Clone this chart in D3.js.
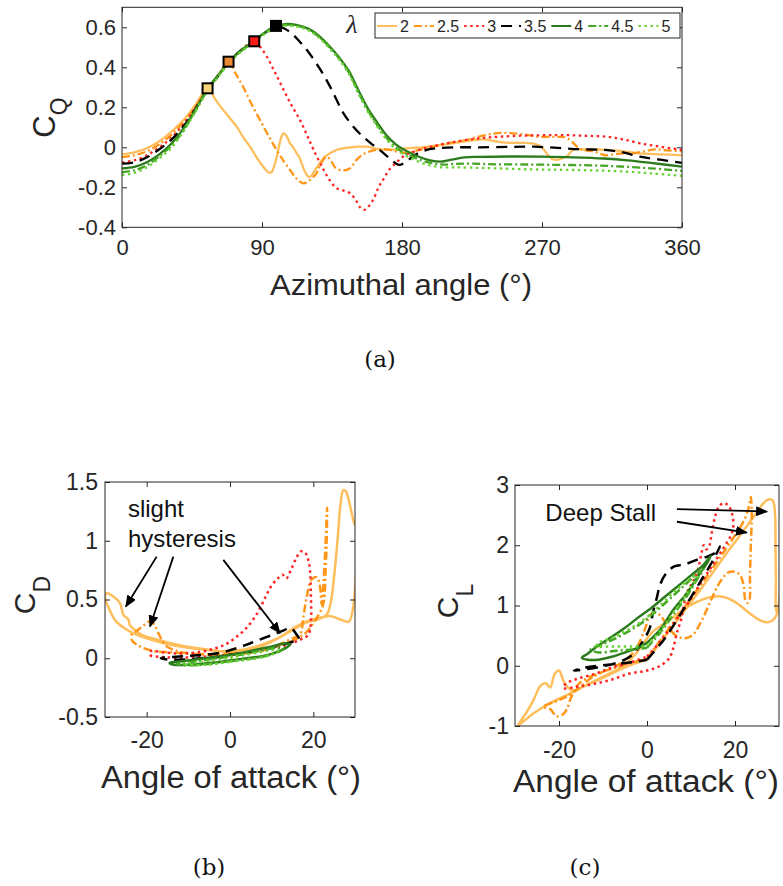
<!DOCTYPE html>
<html>
<head>
<meta charset="utf-8">
<script src="https://cdn.jsdelivr.net/npm/d3@7"></script>
<style>
  body { margin: 0; background: #fff; }
  svg { display: block; }
</style>
</head>
<body>
<svg id="fig" width="783" height="886"></svg>
<script>
// ---- data -------------------------------------------------------------
const lambdaLabels = ["2", "2.5", "3", "3.5", "4", "4.5", "5"];

const azTicks = [0, 90, 180, 270, 360];
const azTickLabels = ["0", "90", "180", "270", "360"];
const cqTicks = [-0.4, -0.2, 0, 0.2, 0.4, 0.6];
const cqTickLabels = ["-0.4", "-0.2", "0", "0.2", "0.4", "0.6"];
const aoaTicks = [-20, 0, 20];
const aoaTickLabels = ["-20", "0", "20"];
const cdTicks = [-0.5, 0, 0.5, 1, 1.5];
const cdTickLabels = ["-0.5", "0", "0.5", "1", "1.5"];
const clTicks = [-1, 0, 1, 2, 3];
const clTickLabels = ["-1", "0", "1", "2", "3"];

// torque coefficient vs azimuthal angle, [theta (deg), C_Q]
const cq2 = [[0,-0.035],[8,-0.025],[16,-0.005],[24,0.03],[32,0.08],[40,0.14],[47,0.21],[55,0.295],[60,0.24],[65,0.187],[69,0.15],[73.7,0.103],[78,0.05],[82.3,0.003],[86.5,-0.05],[90.8,-0.097],[94,-0.125],[96,-0.125],[98,-0.09],[100,-0.03],[102,0.04],[103.7,0.07],[105.5,0.06],[108,0.02],[110,0.0],[112.3,-0.03],[114,-0.05],[115.5,-0.08],[117.5,-0.12],[119.8,-0.147],[122,-0.14],[124,-0.115],[127,-0.08],[130,-0.05],[133.7,-0.03],[138,-0.013],[142,-0.005],[147,0.0],[152,0.003],[157,0.003],[162,-0.005],[167,-0.012],[172,-0.013],[180,-0.008],[186,-0.003],[193,0.0],[200,0.007],[208,0.015],[215,0.023],[224,0.033],[232,0.04],[240,0.03],[247,0.023],[256,0.022],[264,0.02],[268,0.01],[271,-0.01],[274,-0.04],[277,-0.06],[280,-0.063],[283,-0.055],[286,-0.045],[290,-0.013],[296,-0.01],[311.6,-0.013],[322,-0.02],[333,-0.03],[346,-0.035],[360,-0.04]];
const cq25 = [[0,-0.05],[8,-0.04],[16,-0.02],[24,0.015],[32,0.065],[40,0.13],[47,0.2],[55,0.292],[62,0.362],[68.5,0.428],[73,0.37],[78,0.3],[83,0.22],[88.7,0.137],[94,0.06],[99.4,-0.013],[104,-0.07],[108,-0.113],[112,-0.155],[116.6,-0.18],[120.5,-0.165],[125,-0.13],[128,-0.08],[131.6,-0.047],[134.5,-0.07],[137,-0.1],[140,-0.113],[143,-0.115],[146.6,-0.105],[150.8,-0.063],[155,-0.035],[161.6,-0.015],[170,-0.01],[176,-0.02],[183,-0.028],[190,-0.015],[200,0.003],[210,0.02],[221.6,0.037],[230,0.055],[238.7,0.068],[245,0.072],[251.6,0.07],[260,0.062],[268.7,0.053],[278,0.052],[285,0.05],[289,0.03],[293,0.0],[297,-0.015],[303,-0.02],[307,-0.03],[311,-0.04],[316,-0.035],[322,-0.03],[328.6,-0.03],[336,-0.02],[343,-0.01],[350,-0.015],[360,-0.02]];
const cq3 = [[0,-0.075],[8,-0.065],[16,-0.04],[24,0.0],[32,0.05],[40,0.12],[47,0.195],[55,0.29],[62,0.36],[68.5,0.425],[76,0.482],[85,0.53],[89,0.5],[93,0.455],[98,0.38],[103.7,0.29],[109,0.21],[114.4,0.137],[119,0.06],[123,-0.01],[129.4,-0.11],[134,-0.17],[138,-0.205],[142,-0.215],[146.6,-0.23],[150,-0.26],[153,-0.3],[155.5,-0.313],[158,-0.3],[161.6,-0.26],[165,-0.2],[168,-0.16],[172,-0.11],[176.6,-0.075],[181,-0.045],[185,-0.03],[192,-0.01],[200,0.005],[210,0.022],[221.6,0.037],[232,0.047],[243,0.053],[256,0.058],[268.7,0.06],[280,0.061],[290,0.06],[300,0.057],[311.6,0.053],[322,0.04],[333,0.02],[346,0.003],[360,-0.013]];
const cq35 = [[0,-0.082],[8,-0.075],[16,-0.05],[24,-0.01],[32,0.04],[40,0.11],[47,0.19],[55,0.29],[62,0.36],[68.5,0.425],[76,0.482],[85,0.53],[92,0.573],[99,0.607],[104,0.595],[109,0.57],[114,0.53],[119,0.485],[124,0.43],[129,0.37],[135,0.285],[142,0.175],[148,0.11],[154,0.06],[160,0.02],[166,-0.015],[172,-0.055],[178,-0.088],[183,-0.07],[188,-0.04],[195,-0.015],[202,-0.005],[215,0.0],[230,0.0],[250,0.002],[265,0.003],[280,-0.003],[295,-0.01],[310,-0.013],[322,-0.025],[333,-0.047],[346,-0.062],[360,-0.078]];
const cq4 = [[0,-0.105],[8,-0.098],[16,-0.075],[24,-0.035],[32,0.02],[40,0.1],[47,0.185],[55,0.293],[62,0.362],[68.5,0.426],[76,0.482],[85,0.532],[92,0.575],[99,0.606],[105,0.616],[112,0.612],[120,0.592],[127,0.555],[134,0.5],[140,0.445],[146,0.38],[152,0.285],[158,0.195],[164,0.125],[170,0.06],[176,0.015],[182,-0.015],[190,-0.045],[198,-0.065],[205,-0.072],[212,-0.062],[220,-0.05],[230,-0.048],[250,-0.046],[270,-0.047],[290,-0.05],[310,-0.056],[325,-0.065],[340,-0.078],[360,-0.097]];
const cq45 = [[0,-0.125],[8,-0.115],[16,-0.09],[24,-0.045],[32,0.01],[40,0.09],[47,0.18],[55,0.287],[62,0.358],[68.5,0.422],[76,0.478],[85,0.528],[92,0.572],[99,0.603],[105,0.612],[112,0.608],[120,0.588],[127,0.55],[134,0.495],[140,0.44],[146,0.372],[152,0.275],[158,0.185],[164,0.112],[170,0.048],[176,0.0],[182,-0.03],[190,-0.058],[198,-0.077],[206,-0.086],[214,-0.083],[225,-0.082],[240,-0.085],[260,-0.086],[280,-0.088],[300,-0.09],[320,-0.096],[340,-0.105],[360,-0.118]];
const cq5 = [[0,-0.138],[8,-0.128],[16,-0.1],[24,-0.055],[32,0.0],[40,0.085],[47,0.175],[55,0.282],[62,0.354],[68.5,0.418],[76,0.474],[85,0.524],[92,0.568],[99,0.6],[105,0.608],[112,0.604],[120,0.584],[127,0.545],[134,0.49],[140,0.435],[146,0.365],[152,0.268],[158,0.178],[164,0.105],[170,0.04],[176,-0.008],[182,-0.04],[190,-0.07],[198,-0.09],[206,-0.1],[214,-0.1],[225,-0.102],[240,-0.105],[260,-0.11],[280,-0.112],[300,-0.115],[320,-0.12],[340,-0.13],[360,-0.143]];

// peak torque (stall onset) for lambda = 2, 2.5, 3, 3.5
const cqPeakTheta = [55, 68.5, 85, 99];
const cqPeakValue = [0.295, 0.428, 0.53, 0.607];

// drag coefficient vs angle of attack, [alpha (deg), C_D]
const cd2 = [[0,0.05],[4,0.07],[8,0.11],[12,0.18],[15,0.25],[18,0.31],[21,0.34],[24,0.36],[26.5,0.33],[28.5,0.31],[29.5,0.42],[30.2,0.7],[30.5,1.1],[29.8,1.15],[28.8,1.3],[27.8,1.42],[27.2,1.43],[26.5,1.3],[25.8,1.0],[25,0.7],[24.2,0.48],[23.2,0.37],[21,0.33],[18,0.3],[15,0.24],[12,0.18],[8,0.12],[4,0.08],[0,0.06],[-4,0.065],[-8,0.08],[-12,0.1],[-16,0.13],[-20,0.17],[-23,0.21],[-25.5,0.26],[-27.5,0.32],[-29,0.42],[-30,0.52],[-29.6,0.555],[-28,0.525],[-26.4,0.47],[-25.6,0.37],[-24.4,0.33],[-24,0.28],[-22.8,0.24],[-21.2,0.2],[-17.2,0.156],[-12.4,0.113],[-6,0.076],[0,0.05]];
const cd25 = [[0,0.04],[4,0.05],[8,0.08],[12,0.12],[15,0.17],[16.8,0.2],[17.6,0.35],[18.4,0.52],[19.6,0.67],[20.8,0.69],[21.6,0.61],[22,0.46],[22.4,0.62],[22.9,0.95],[23.3,1.28],[23.2,1.0],[22.9,0.7],[22.6,0.5],[22,0.42],[20,0.3],[18,0.21],[15,0.15],[11,0.1],[7,0.06],[3,0.04],[-1,0.03],[-5,0.03],[-9,0.04],[-12.5,0.06],[-15.5,0.11],[-17,0.2],[-18.5,0.3],[-19.5,0.31],[-21,0.27],[-22.5,0.23],[-23.6,0.2],[-23.5,0.15],[-22.5,0.12],[-21,0.09],[-18,0.06],[-14,0.05],[-10,0.04],[-5,0.035],[0,0.04]];
const cd3 = [[0,0.03],[5,0.05],[10,0.08],[14,0.12],[17,0.16],[18.8,0.2],[19.4,0.3],[19.4,0.55],[19,0.8],[18,0.9],[17,0.91],[16,0.86],[14.6,0.75],[13.5,0.68],[12.6,0.71],[11.5,0.68],[10,0.62],[8.5,0.52],[6.5,0.38],[4,0.26],[1.5,0.18],[-1,0.12],[-4,0.08],[-8,0.05],[-12,0.04],[-16,0.05],[-19,0.06],[-19.3,0.03],[-16,0.01],[-12,0.005],[-8,0.01],[-4,0.02],[0,0.03]];
const cd35 = [[0,0.03],[4,0.05],[8,0.08],[12,0.11],[15,0.14],[16.6,0.16],[16,0.2],[14.5,0.26],[13,0.24],[11,0.21],[8,0.17],[5,0.13],[2,0.09],[-2,0.05],[-6,0.03],[-10,0.02],[-14,0.01],[-16.6,0.0],[-15,-0.01],[-11,-0.01],[-7,0.0],[-3,0.01],[0,0.03]];
const cd4 = [[0,-0.02],[4,0.0],[8,0.02],[11,0.05],[13.5,0.09],[14.5,0.12],[13,0.125],[10,0.1],[6,0.07],[2,0.04],[-2,0.02],[-6,0.0],[-10,-0.02],[-13,-0.03],[-14.5,-0.04],[-13.5,-0.055],[-10,-0.055],[-6,-0.045],[-3,-0.035],[0,-0.02]];
const cd45 = [[0,-0.025],[4,-0.008],[8,0.015],[11,0.045],[12.8,0.08],[11.5,0.09],[8,0.07],[4,0.04],[0,0.015],[-4,-0.005],[-8,-0.025],[-11,-0.04],[-12.8,-0.05],[-11,-0.06],[-7,-0.055],[-3,-0.04],[0,-0.025]];
const cd5 = [[0,-0.03],[4,-0.012],[8,0.01],[10.5,0.04],[11.5,0.065],[10,0.07],[7,0.05],[3,0.025],[0,0.005],[-4,-0.015],[-8,-0.035],[-11.5,-0.05],[-10,-0.06],[-6,-0.055],[-3,-0.045],[0,-0.03]];

// lift coefficient vs angle of attack, [alpha (deg), C_L]
const cl2 = [[0,0.1],[3,0.38],[6,0.67],[9,0.96],[12,1.25],[15,1.55],[18,1.86],[21,2.15],[23,2.35],[25,2.55],[26.5,2.7],[27.6,2.76],[28.6,2.74],[29.1,2.5],[29.2,2.0],[29.3,1.4],[29.3,0.95],[29.6,0.88],[30.2,1.1],[30.5,1.45],[30.2,1.2],[29.5,0.85],[28.5,0.75],[27.3,0.72],[25.5,0.76],[23.5,0.86],[21.5,0.98],[19.5,1.08],[17.5,1.14],[15.5,1.15],[13,1.11],[10.5,1.03],[8,0.92],[5.5,0.78],[3.5,0.68],[1.5,0.58],[0,0.45],[-1.5,0.3],[-3,0.16],[-5,0.03],[-7,-0.07],[-10,-0.18],[-14,-0.33],[-18,-0.48],[-22,-0.62],[-26,-0.8],[-29.3,-0.99],[-27.6,-0.8],[-25.8,-0.57],[-24.2,-0.33],[-23,-0.29],[-22,-0.36],[-21,-0.14],[-20,-0.08],[-18.8,-0.28],[-17,-0.41],[-14,-0.33],[-10,-0.2],[-6,-0.06],[-3,0.03],[0,0.1]];
const cl25 = [[0,0.12],[3,0.42],[6,0.72],[9,1.02],[12,1.32],[15,1.63],[18,1.95],[20.5,2.22],[22.3,2.45],[23.2,2.65],[23.6,2.8],[23.8,2.5],[23.6,2.0],[23.4,1.5],[23.3,1.1],[22.8,1.04],[22.3,1.1],[22,1.32],[21.2,1.5],[20,1.56],[18.5,1.55],[16.5,1.38],[14.5,1.08],[12.5,0.76],[10.5,0.52],[9,0.46],[7,0.48],[5,0.62],[3.2,0.82],[2,0.88],[0.8,0.85],[-0.5,0.6],[-2,0.35],[-4,0.15],[-7,0.0],[-10,-0.1],[-13,-0.22],[-16,-0.4],[-18.5,-0.52],[-21,-0.6],[-23.6,-0.68],[-22,-0.72],[-20.5,-0.84],[-19,-0.8],[-18.2,-0.72],[-17.2,-0.52],[-15.5,-0.3],[-12,-0.15],[-8,-0.05],[-4,0.04],[0,0.12]];
const cl3 = [[0,0.15],[3,0.4],[6,0.7],[9,1.0],[12,1.35],[15,1.68],[17.5,1.97],[19,2.15],[19.6,2.3],[19.4,2.5],[18.6,2.65],[17.5,2.7],[16.4,2.65],[15.5,2.48],[14.7,2.2],[14.2,2.0],[13.5,1.93],[12.9,2.0],[12.4,1.88],[11.6,1.6],[10.5,1.4],[9.3,1.25],[8.5,1.05],[7.8,0.78],[6.8,0.55],[6,0.3],[5,0.12],[3,0.0],[0,-0.08],[-4,-0.13],[-8,-0.23],[-12,-0.3],[-16,-0.35],[-19,-0.37],[-18.5,-0.3],[-16,-0.22],[-12,-0.14],[-8,-0.03],[-4,0.05],[0,0.15]];
const cl35 = [[0,0.1],[4,0.45],[8,0.9],[12,1.38],[15,1.75],[16.6,1.98],[16,1.9],[14,1.82],[11,1.75],[8.5,1.68],[6.2,1.65],[4.2,1.52],[3,1.35],[2.2,1.12],[1.4,0.9],[0.6,0.62],[-1,0.4],[-3,0.2],[-6,0.07],[-10,-0.01],[-14,-0.06],[-16.6,-0.08],[-14,-0.03],[-10,0.01],[-6,0.04],[-3,0.06],[0,0.1]];
const cl4 = [[0,0.38],[3,0.6],[6,0.93],[9,1.2],[12,1.53],[13.6,1.7],[14.5,1.82],[12.9,1.68],[10,1.5],[7,1.32],[4,1.14],[1,0.96],[-2,0.8],[-5,0.63],[-8,0.48],[-11,0.34],[-13.5,0.2],[-14.8,0.13],[-13.5,0.1],[-11,0.1],[-8,0.15],[-5,0.22],[-2,0.3],[0,0.38]];
const cl45 = [[0,0.3],[3,0.55],[6,0.85],[9,1.15],[11.5,1.45],[12.8,1.6],[11,1.5],[8,1.3],[5,1.1],[2,0.9],[-1,0.72],[-4,0.58],[-7,0.46],[-10,0.36],[-12.8,0.27],[-11,0.22],[-8,0.24],[-5,0.26],[-2,0.28],[0,0.3]];
const cl5 = [[0,0.33],[3,0.58],[6,0.88],[9,1.2],[11.5,1.5],[10,1.45],[7,1.28],[4,1.07],[1,0.87],[-2,0.7],[-5,0.57],[-8,0.46],[-11,0.38],[-11.5,0.32],[-9,0.32],[-6,0.32],[-3,0.32],[0,0.33]];

// ---- styling ----------------------------------------------------------
const seriesColor = ["#ffbe5c", "#ff961a", "#ff2424", "#000000", "#2b7a1c", "#45a524", "#6ad236"];
const seriesDash  = [null, "8,3,2,3", "2.5,3.5", "11,7", null, "8,3,2,3", "2.5,3.5"];
const peakFill    = ["#f6d47a", "#e98a33", "#ff1a1a", "#000000"];
const SANS = '"Liberation Sans", Arial, Helvetica, sans-serif';
const SERIF = '"DejaVu Serif", "Liberation Serif", serif';
const AXC = "#262626";

const svg = d3.select("#fig");
const defs = svg.append("defs");
defs.append("marker").attr("id", "arrowhead")
  .attr("viewBox", "0 0 12 10").attr("refX", 11).attr("refY", 5)
  .attr("markerWidth", 12).attr("markerHeight", 10)
  .attr("markerUnits", "userSpaceOnUse").attr("orient", "auto")
  .append("path").attr("d", "M0,0 L12,5 L0,10 Z").attr("fill", "#000");

// frame with inward ticks on all four sides (boxed axes)
function drawFrame(g, x, y, xt, xl, yt, yl, fs, padX, padY) {
  const [xa, xb] = x.range();
  const [ya, yb] = y.range();
  const style = sel => {
    sel.select(".domain").remove();
    sel.selectAll("line").attr("stroke", AXC).attr("stroke-width", 1);
    sel.selectAll("text").attr("fill", AXC).style("font-family", SANS).style("font-size", fs + "px");
  };
  const fx = v => xl[xt.indexOf(v)];
  const fy = v => yl[yt.indexOf(v)];
  g.append("g").attr("transform", `translate(0,${ya})`)
    .call(d3.axisBottom(x).tickValues(xt).tickFormat(fx).tickSizeInner(-5).tickSizeOuter(0).tickPadding(padX)).call(style);
  g.append("g").attr("transform", `translate(0,${yb})`)
    .call(d3.axisTop(x).tickValues(xt).tickFormat("").tickSizeInner(-5).tickSizeOuter(0)).call(style);
  g.append("g").attr("transform", `translate(${xa},0)`)
    .call(d3.axisLeft(y).tickValues(yt).tickFormat(fy).tickSizeInner(-5).tickSizeOuter(0).tickPadding(padY)).call(style);
  g.append("g").attr("transform", `translate(${xb},0)`)
    .call(d3.axisRight(y).tickValues(yt).tickFormat("").tickSizeInner(-5).tickSizeOuter(0)).call(style);
  g.append("rect").attr("x", xa).attr("y", yb).attr("width", xb - xa).attr("height", ya - yb)
    .attr("fill", "none").attr("stroke", AXC).attr("stroke-width", 1);
}

function drawSeries(g, x, y, sets, clipId, width) {
  const line = d3.line().x(d => x(d[0])).y(d => y(d[1])).curve(d3.curveCatmullRom.alpha(0.5));
  const lg = g.append("g").attr("clip-path", `url(#${clipId})`);
  sets.forEach((s, i) => {
    lg.append("path").attr("d", line(s)).attr("fill", "none")
      .attr("stroke", seriesColor[i]).attr("stroke-width", width)
      .attr("stroke-dasharray", seriesDash[i])
      .attr("stroke-linejoin", "round");
  });
}

function addClip(id, x, y) {
  const [xa, xb] = x.range(); const [ya, yb] = y.range();
  defs.append("clipPath").attr("id", id).append("rect")
    .attr("x", xa).attr("y", yb).attr("width", xb - xa).attr("height", ya - yb);
}

function subLabel(cx, cy, main, sub, fs, subFs, shift) {
  const t = svg.append("text").attr("transform", `translate(${cx},${cy}) rotate(-90)`)
    .attr("text-anchor", "middle").attr("fill", AXC).style("font-family", SANS).style("font-size", fs + "px");
  t.append("tspan").text(main);
  t.append("tspan").attr("dy", shift).style("font-size", subFs + "px").text(sub);
}

function plainText(x, y, str, fs, anchor, family, fill) {
  return svg.append("text").attr("x", x).attr("y", y).attr("text-anchor", anchor || "middle")
    .attr("fill", fill || AXC).style("font-family", family || SANS).style("font-size", fs + "px").text(str);
}

// ---- (a) torque coefficient -------------------------------------------
const xA = d3.scaleLinear().domain([0, 360]).range([122, 682]);
const yA = d3.scaleLinear().domain([-0.4, 0.7]).range([227.3, 7.3]);
const gA = svg.append("g");
addClip("clipA", xA, yA);
drawSeries(gA, xA, yA, [cq2, cq25, cq3, cq35, cq4, cq45, cq5], "clipA", 2.3);
cqPeakTheta.forEach((t, i) => {
  gA.append("rect").attr("x", xA(t) - 5).attr("y", yA(cqPeakValue[i]) - 5)
    .attr("width", 10).attr("height", 10)
    .attr("fill", peakFill[i]).attr("stroke", "#000").attr("stroke-width", 2);
});
drawFrame(gA, xA, yA, azTicks, azTickLabels, cqTicks, cqTickLabels, 22, 12, 6);

// legend
const leg = svg.append("g");
leg.append("rect").attr("x", 375).attr("y", 13).attr("width", 305).attr("height", 25)
  .attr("fill", "#fff").attr("stroke", AXC).attr("stroke-width", 1);
let lx = 377;
lambdaLabels.forEach((lab, i) => {
  leg.append("line").attr("x1", lx).attr("x2", lx + 20).attr("y1", 26).attr("y2", 26)
    .attr("stroke", seriesColor[i]).attr("stroke-width", 2).attr("stroke-dasharray", seriesDash[i]);
  const t = leg.append("text").attr("x", lx + 23).attr("y", 32).attr("fill", AXC)
    .style("font-family", SANS).style("font-size", "16px").text(lab);
  lx = lx + 23 + t.node().getComputedTextLength() + 5;
});
plainText(352, 33, "λ", 26, "middle", '"Liberation Serif", serif').style("font-style", "italic");

plainText(401, 295, "Azimuthal angle (°)", 30)
  .attr("textLength", 262).attr("lengthAdjust", "spacingAndGlyphs");
subLabel(55, 117.5, "C", "Q", 31, 23, 12);
plainText(380, 367, "(a)", 23, "middle", SERIF, "#111");

// ---- (b) drag coefficient ---------------------------------------------
const xB = d3.scaleLinear().domain([-30, 30]).range([105, 355]);
const yB = d3.scaleLinear().domain([-0.5, 1.5]).range([717, 482]);
const gB = svg.append("g");
addClip("clipB", xB, yB);
drawSeries(gB, xB, yB, [cd2, cd25, cd3, cd35, cd4, cd45, cd5], "clipB", 2.5);
drawFrame(gB, xB, yB, aoaTicks, aoaTickLabels, cdTicks, cdTickLabels, 23, 15, 7);
plainText(xB(-24.5), yB(1.2), "slight", 24, "start", SANS, "#111");
plainText(xB(-24.5), yB(0.95), "hysteresis", 24, "start", SANS, "#111");
[[[-17.6, 0.865], [-25, 0.44]], [[-13.6, 0.865], [-19.2, 0.27]], [[-1.6, 0.837], [12, 0.213]]]
  .forEach(([p, q]) => {
    gB.append("line").attr("x1", xB(p[0])).attr("y1", yB(p[1])).attr("x2", xB(q[0])).attr("y2", yB(q[1]))
      .attr("stroke", "#000").attr("stroke-width", 1.8).attr("marker-end", "url(#arrowhead)");
  });
plainText(231, 788, "Angle of attack (°)", 31)
  .attr("textLength", 260).attr("lengthAdjust", "spacingAndGlyphs");
subLabel(35, 595, "C", "D", 30, 23, 15);
plainText(209, 875, "(b)", 23, "middle", SERIF, "#111");

// ---- (c) lift coefficient ---------------------------------------------
const xC = d3.scaleLinear().domain([-30, 30]).range([515, 779]);
const yC = d3.scaleLinear().domain([-1, 3]).range([726, 485]);
const gC = svg.append("g");
addClip("clipC", xC, yC);
drawSeries(gC, xC, yC, [cl2, cl25, cl3, cl35, cl4, cl45, cl5], "clipC", 2.5);
drawFrame(gC, xC, yC, aoaTicks, aoaTickLabels, clTicks, clTickLabels, 23, 16, 6);
plainText(xC(-23.1), yC(2.4), "Deep Stall", 24, "start", SANS, "#111");
[[[6.8, 2.6], [27.3, 2.56]], [[6.8, 2.39], [22.7, 2.21]]].forEach(([p, q]) => {
  gC.append("line").attr("x1", xC(p[0])).attr("y1", yC(p[1])).attr("x2", xC(q[0])).attr("y2", yC(q[1]))
    .attr("stroke", "#000").attr("stroke-width", 1.8).attr("marker-end", "url(#arrowhead)");
});
plainText(646, 792, "Angle of attack (°)", 31)
  .attr("textLength", 266).attr("lengthAdjust", "spacingAndGlyphs");
subLabel(458, 601, "C", "L", 30, 23, 15);
plainText(585, 875, "(c)", 23, "middle", SERIF, "#111");
</script>
</body>
</html>
